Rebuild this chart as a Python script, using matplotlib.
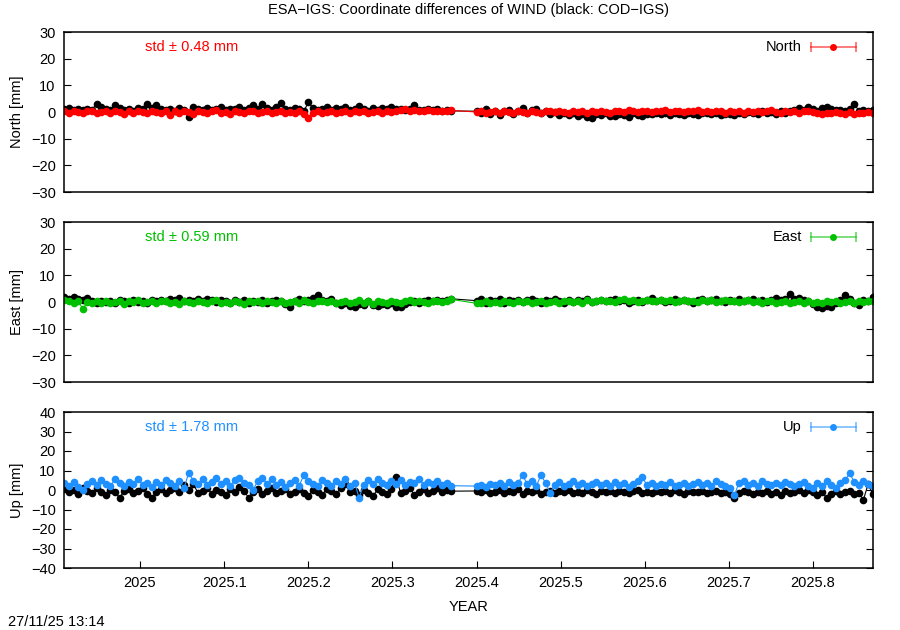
'''
ESA-IGS coordinate differences of WIND, gnuplot style, redone in matplotlib
'''
import numpy as np
import matplotlib
matplotlib.use('Agg')
import matplotlib.pyplot as plt

plt.rcParams['font.family'] = ['Liberation Sans', 'DejaVu Sans']

TITLE = 'ESA\u2212IGS: Coordinate differences of WIND (black: COD\u2212IGS)'
STAMP = '27/11/25 13:14'

# epochs: 2-day sampling, two blocks with a gap in between
STEP = 2 / 365.25
T1_START, N1 = 2024.910, 85
T2_START, N2 = 2025.400, 87

# North [mm]
north_cod_1 = [1.0, 1.5, 0.8, 1.2, 0.6, 1.3, 0.9, 3.0, 1.8, 1.0,
               0.7, 2.5, 1.4, 0.9, 1.1, 0.4, 1.6, 1.0, 3.0, 1.5,
               2.5, 1.2, 0.6, 1.0, 0.3, 1.4, 0.8, -2.0, 1.8, 1.2,
               0.9, 1.5, 0.7, 1.1, 1.9, 0.6, 1.3, 1.0, 1.7, 0.8,
               1.5, 2.5, 1.2, 3.0, 1.4, 0.9, 1.8, 3.5, 1.3, 0.7,
               1.6, 1.0, 0.4, 3.6, 1.5, 0.9, 1.2, 1.9, 0.8, 1.4,
               1.0, 1.7, 0.6, 1.3, 2.2, 1.1, 0.5, 1.4, 0.9, 1.6,
               1.0, 1.8, 1.2, 1.2, 0.7, 1.1, 2.5, 0.6, 0.9, 1.3,
               0.8, 1.0, 0.5, 0.7, 0.4]
north_cod_2 = [0.3, -0.5, 1.0, -0.8, 0.5, -1.0, 0.2, 0.8, -0.6, 0.4,
               1.5, -0.3, 0.6, 1.2, -0.5, 0.5, -0.9, 0.0, -1.2, -0.4,
               -1.0, -0.2, -1.5, -0.6, -1.8, -2.2, -0.8, -1.3, -0.5, -1.6,
               -1.5, -0.7, -1.1, -1.8, -0.4, -1.0, -1.4, -0.6, -0.9, -0.3,
               -0.8, -0.5, -1.2, -0.2, -0.7, -1.0, -0.4, -0.6, -1.1, -0.3,
               -0.5, -0.9, -0.2, -1.3, -0.6, -0.8, -1.2, -0.4, -0.7, 0.0,
               -0.5, -0.9, 0.2, -0.3, 0.0, -0.6, 0.3, -0.2, 0.5, 0.8,
               1.5, 0.6, 1.8, 1.0, 0.2, 1.4, 1.7, 1.2, 0.6, 0.9,
               0.4, 1.0, 3.0, 0.5, 0.8, 0.2, 0.6]
north_esa_1 = [0.3, -0.2, 0.4, 0.0, -0.5, 0.2, 0.5, -0.3, 0.1, 0.4,
               -0.4, 0.2, 0.0, -0.6, 0.3, -0.2, 0.5, 0.1, -0.3, 0.2,
               0.0, -0.5, 0.3, -1.0, 0.2, -0.3, 0.4, 0.0, -0.6, 0.5,
               0.1, -0.4, 0.3, 0.6, -0.2, 0.0, -0.7, 0.3, 0.1, -0.4,
               0.2, 0.5, -0.3, 0.0, 0.4, -0.5, 0.1, 0.3, -0.2, 0.0,
               -0.4, 0.2, -0.8, -2.2, -0.5, 0.3, -0.3, 0.1, 0.4, -0.2,
               0.0, 0.3, -0.5, 0.2, -0.1, 0.4, -0.3, 0.0, 0.5, -0.4,
               0.2, 0.0, 0.3, 0.6, 1.0, 0.5, 0.8, 0.2, 0.4, 0.6,
               0.3, 0.5, 0.2, 0.4, 0.6]
north_esa_2 = [0.0, 0.3, -0.2, 0.1, 0.4, -0.3, 0.2, 0.0, -0.4, 0.3,
               0.1, -0.2, 0.4, 0.0, -0.3, 0.2, 0.5, -0.1, 0.3, 0.0,
               -0.4, 0.2, 0.1, 0.4, -0.2, 0.3, 0.0, 0.5, 0.1, -0.3,
               0.2, 0.4, 0.0, 0.6, 0.2, -0.1, 0.3, 0.5, 0.0, 0.4,
               0.2, 0.6, 0.1, 0.3, 0.5, 0.0, 0.4, 0.2, 0.6, 0.1,
               0.3, 0.0, 0.5, 0.2, -0.2, 0.4, 0.1, 0.3, -0.3, 0.2,
               0.0, 0.4, -0.1, 0.3, 0.6, 0.1, -0.2, 0.4, 0.0, 0.3,
               -0.3, 0.2, 0.5, 0.0, -0.4, -0.6, -0.2, -0.5, 0.0, -0.3,
               -0.6, -0.1, -0.8, -0.3, -0.5, 0.0, -0.2]

# East [mm]
east_cod_1 = [1.8, 1.0, 2.0, 1.3, 0.6, 1.5, 0.2, -0.5, 0.4, 0.0,
              0.5, -0.3, 0.8, 0.2, -0.4, 0.6, 0.0, 0.4, -0.2, 0.7,
              0.3, 0.9, 0.5, 1.2, 0.6, 1.5, 0.4, 0.8, 0.2, 1.0,
              0.5, 1.3, 0.7, 0.0, 0.9, 0.4, -0.3, 0.6, 0.1, 0.8,
              -0.2, 0.5, 0.0, 0.7, -0.4, 0.3, 0.8, 0.2, -0.8, -2.0,
              0.4, 1.0, 0.5, 0.9, 1.5, 2.6, 0.8, 0.3, 1.0, -0.5,
              -1.0, -0.4, -1.5, -1.8, -0.8, -1.2, 0.2, -1.0, -1.6, -0.6,
              -1.2, -0.3, -1.8, -2.0, -0.9, 0.0, 0.5, -0.4, 0.3, 0.8,
              0.4, 0.9, 0.2, 0.6, 1.2]
east_cod_2 = [0.5, 1.2, -0.2, 0.8, 0.3, 1.0, -0.4, 0.6, 0.2, 0.9,
              0.0, 0.7, 1.3, 0.4, -0.3, 0.8, 0.2, 1.0, 0.5, -0.2,
              0.6, 0.1, 0.9, 0.3, 1.2, -0.1, 0.5, 0.8, 0.2, 0.6,
              1.0, 0.3, 0.7, -0.2, 0.5, 0.9, 0.1, 0.6, 1.4, 0.3,
              0.7, 0.0, 0.5, 1.1, 0.2, 0.8, 0.4, -0.3, 0.6, 1.0,
              0.3, 0.7, 1.2, 0.4, 0.0, 0.8, 0.5, 1.0, 0.2, 0.6,
              1.3, 0.4, 0.9, 0.1, 0.6, 1.5, 0.8, 1.0, 3.0, 1.2,
              1.5, 0.6, 0.2, -0.6, -1.8, -2.2, -1.5, -2.0, -0.5, 0.8,
              2.5, 1.0, -0.2, -1.0, 0.6, 0.3, 2.0]
east_esa_1 = [0.8, 0.2, -0.4, 0.5, -2.6, 0.0, -0.5, 0.3, -0.2, 0.4,
              -0.3, 0.1, 0.5, -0.6, 0.2, -0.1, 0.6, -0.4, 0.0, 0.3,
              -0.5, 0.2, 0.4, -0.2, 0.0, -0.7, 0.3, 0.1, -0.4, 0.5,
              0.0, -0.3, 0.2, 0.6, -0.5, 0.1, -0.2, 0.4, 0.0, -0.6,
              0.3, -0.1, 0.5, -0.4, 0.2, 0.0, -0.3, 0.4, -0.5, 0.1,
              0.3, -0.2, 0.6, 0.0, -0.4, 0.2, 0.5, -0.1, 0.3, -0.5,
              0.1, 0.4, -0.3, 0.0, 0.6, -0.2, 0.2, -0.6, 0.3, 0.0,
              -0.4, 0.5, 0.1, -0.3, 0.2, 0.7, -0.1, 0.4, 0.0, -0.5,
              0.2, 0.5, 0.0, 0.3, 1.0]
east_esa_2 = [-0.5, -0.2, 0.3, -0.4, 0.1, -0.3, 0.4, 0.0, -0.5, 0.2,
              -0.1, 0.3, -0.4, 0.0, 0.5, -0.2, 0.1, 0.4, -0.3, 0.2,
              0.5, 0.0, 0.3, -0.2, 0.6, 0.1, 0.4, 0.8, 0.2, 0.5,
              0.0, 0.6, 1.2, 0.3, 0.7, 0.1, 0.4, 0.9, 0.2, 0.5,
              0.8, 0.3, 0.6, 0.0, 0.4, 0.9, 0.2, 0.5, 0.1, 0.6,
              0.3, 0.7, 0.0, 0.4, 0.8, 0.2, 0.5, -0.1, 0.3, 0.6,
              0.0, 0.4, -0.3, 0.2, 0.5, -0.2, 0.1, 0.4, -0.4, 0.0,
              0.3, -0.2, 0.2, -0.5, 0.0, -0.3, 0.4, -0.1, 0.2, -0.4,
              0.1, 0.4, -0.2, 0.3, 0.0, 0.5, 0.2]

# Up [mm]
up_cod_1 = [0.5, -1.0, 0.0, -2.0, 1.0, -0.5, -1.5, 0.8, -0.8, -2.5,
            0.0, -1.2, -4.0, -0.3, 0.6, -1.5, -0.5, 1.0, -2.0, -4.0,
            -0.8, 0.5, -1.6, -0.2, 1.2, -1.0, 2.5, 0.0, 3.0, -1.4,
            -0.6, 0.8, -1.8, 0.2, -0.9, -2.6, 0.4, -1.2, 1.5, -0.4,
            -4.0, -1.0, 0.6, -2.0, -0.3, 1.0, -1.5, -0.6, 0.3, -2.2,
            -0.8, 0.5, -1.6, -3.0, 0.2, -1.0, -2.4, 0.6, -0.5, -1.8,
            0.8, 3.0, -1.2, -0.4, -2.5, 0.0, -1.6, -3.2, 0.4, -1.0,
            -2.0, 0.5, 6.8, -1.5, -0.6, 1.2, -2.8, -0.9, 0.3, -1.4,
            -0.5, 0.8, -1.0, 0.2, -0.6]
up_cod_2 = [-0.5, -1.2, 0.2, -1.5, -0.8, 0.0, -1.6, -0.4, -1.0, 0.3,
            -1.8, -0.6, -1.2, 0.0, -2.0, -0.9, -0.3, -1.5, -0.7, -1.1,
            -0.2, -1.6, -0.8, -1.3, 0.2, -1.0, -1.8, -0.5, -1.2, -0.6,
            -1.4, -0.3, -1.0, -1.7, -0.6, -0.2, -1.3, -0.9, -1.6, -0.4,
            -1.1, -0.7, -1.5, -0.2, -1.0, -1.8, -0.5, -1.2, -0.8, -0.3,
            -1.4, -0.9, -0.4, -1.6, -1.0, -2.0, -4.0, -1.5, -0.6, -1.2,
            -2.2, -0.8, -1.5, -0.4, -1.8, -1.0, -2.4, -0.6, -1.4, -0.9,
            -0.2, -1.6, 0.0, -1.2, -2.6, -1.0, -4.0, -1.8, -0.4, -2.2,
            -1.0, -0.6, -2.0, -1.5, -5.0, 3.0, -2.0]
up_esa_1 = [3.5, 2.0, 4.0, 1.5, 0.0, 3.0, 4.5, 2.5, 5.0, 3.2,
            2.0, 5.5, 3.8, 1.8, 4.2, 3.0, 5.8, 2.5, 3.6, 1.5,
            4.0, 2.8, 5.2, 3.4, 2.0, 4.6, 1.0, 8.9, 4.8, 3.0,
            5.5, 2.6, 4.2, 6.0, 3.0, 4.5, 2.2, 5.0, 6.3, 3.5,
            2.5, 0.0, 4.8, 6.2, 3.3, 5.6, 2.8, 4.0, 1.5, 3.8,
            5.0, 2.3, 7.7, 4.5, 3.0, 1.8, 5.2, 3.5, 2.2, 4.6,
            3.0, 5.4, 2.0, 3.8, -4.0, 2.8, 4.9, 3.2, 5.8, 3.6,
            2.5, 4.4, 3.0, 5.2, 2.6, 4.0, 3.4, 5.5, 2.8, 4.2,
            3.2, 4.8, 2.5, 3.6, 2.2]
up_esa_2 = [2.0, 2.8, 1.5, 3.2, 2.4, 3.6, 2.0, 4.2, 2.6, 3.4,
            7.7, 3.0, 4.8, 2.2, 7.7, 3.5, -1.5, 2.8, 4.0, 2.0,
            3.2, 4.5, 2.4, 3.6, 1.8, 3.0, 4.2, 2.6, 3.8, 2.2,
            4.0, 2.8, 3.4, 1.6, 3.0, 4.6, 6.5, 2.5, 3.6, 2.0,
            3.2, 2.4, 4.0, 1.8, 2.8, 3.6, 2.2, 3.0, 4.2, 2.6,
            3.4, 2.0, 4.4, 3.0, 2.2, 1.0, -2.5, 3.8, 4.6, 2.4,
            3.6, 2.2, 4.8, 3.0, 2.4, 3.8, 2.6, 4.2, 3.0, 2.0,
            3.2, 4.0, 2.2, 1.0, 3.6, 2.0, 4.4, 2.6, 1.2, 3.8,
            5.0, 8.5, 4.2, 2.4, 4.6, 3.2, 2.0]

COMPONENTS = ['North', 'East', 'Up']
STD_TEXT = ['0.48', '0.59', '1.78']
COLORS = ['#ff0000', '#00c000', '#1e90ff']
YLIMS = [(-30, 30), (-30, 30), (-40, 40)]
XTICKS = [2025.0, 2025.1, 2025.2, 2025.3, 2025.4, 2025.5, 2025.6, 2025.7, 2025.8]
XTICKLABELS = ['2025', '2025.1', '2025.2', '2025.3', '2025.4',
               '2025.5', '2025.6', '2025.7', '2025.8']
XLIM = (2024.9096, 2025.8713)
FS = 10.5

t = np.concatenate([T1_START + STEP * np.arange(N1), T2_START + STEP * np.arange(N2)])
cod = [north_cod_1 + north_cod_2, east_cod_1 + east_cod_2, up_cod_1 + up_cod_2]
esa = [north_esa_1 + north_esa_2, east_esa_1 + east_esa_2, up_esa_1 + up_esa_2]

fig = plt.figure(figsize=(9, 6.3), dpi=100)
# axes boxes in pixels (left, top, right, bottom) -> figure fractions
boxes = [(64, 32, 873, 192), (64, 222, 873, 382), (64, 412, 873, 568)]

for k, comp in enumerate(COMPONENTS):
    l, tp, r, b = boxes[k]
    ax = fig.add_axes([l / 900, 1 - b / 630, (r - l) / 900, (b - tp) / 630])
    ax.plot(t, cod[k], color='black', lw=0.8, marker='o', ms=5.5, mec='black', mew=0)
    ax.plot(t, esa[k], color=COLORS[k], lw=0.8, marker='o', ms=5.5,
            mec=COLORS[k], mew=0)
    ax.set_xlim(*XLIM)
    ax.set_ylim(*YLIMS[k])
    ax.set_yticks(np.arange(YLIMS[k][0], YLIMS[k][1] + 1, 10))
    ax.tick_params(axis='y', direction='in', length=5, width=0.8, right=True,
                   labelsize=FS, pad=6)
    if k == 2:
        ax.set_xticks(XTICKS)
        ax.set_xticklabels(XTICKLABELS)
        ax.tick_params(axis='x', direction='in', length=5, width=0.8,
                       labelsize=FS, pad=6)
        ax.set_xlabel('YEAR', fontsize=FS, labelpad=7)
    else:
        ax.set_xticks([])
    for s in ax.spines.values():
        s.set_linewidth(1.1)
    ax.set_ylabel(f'{comp} [mm]', fontsize=FS, labelpad=5)

    # std note
    ax.text(0.100, 0.905, f'std \u00b1 {STD_TEXT[k]} mm', transform=ax.transAxes,
            color=COLORS[k], fontsize=FS, ha='left', va='center')
    # gnuplot-like key: label + errorbar sample
    ax.text(0.912, 0.905, comp, transform=ax.transAxes, fontsize=FS,
            ha='right', va='center')
    ax.plot([0.923, 0.979], [0.905, 0.905], transform=ax.transAxes,
            color=COLORS[k], alpha=0.6, lw=1.2, clip_on=False)
    ax.plot([0.923, 0.979], [0.905, 0.905], transform=ax.transAxes, ls='none',
            marker='|', ms=7, mew=1.2, color=COLORS[k], alpha=0.6, clip_on=False)
    ax.plot([0.951], [0.905], transform=ax.transAxes, ls='none', marker='o',
            ms=5, mew=0, color=COLORS[k], clip_on=False)

fig.text(468.5 / 900, 1 - 10 / 630, TITLE, ha='center', va='center', fontsize=FS)
fig.text(8 / 900, 1 - 622 / 630, STAMP, ha='left', va='center', fontsize=FS)

fig.savefig('out.png', dpi=100)
